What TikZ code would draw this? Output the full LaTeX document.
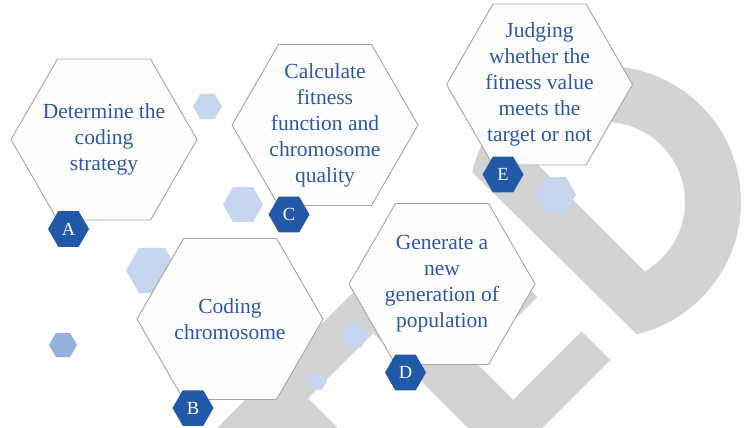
\documentclass[tikz,border=0pt]{standalone}
\usepackage{fontspec}
\setmainfont{Liberation Serif}
\usetikzlibrary{shapes.geometric}
\definecolor{txtblue}{RGB}{45,88,166}
\definecolor{badgeblue}{RGB}{34,88,168}
\definecolor{lightblue}{RGB}{198,214,238}
\definecolor{midblue}{RGB}{148,176,220}
\definecolor{bggray}{RGB}{211,211,211}
\definecolor{hexline}{RGB}{165,165,165}
\definecolor{hexfill}{RGB}{253,253,253}
\begin{document}
\begin{tikzpicture}[x=1pt,y=-1pt,
  bighex/.style={regular polygon, regular polygon sides=6, minimum size=186pt, inner sep=0pt, outer sep=0pt, draw=hexline, fill=hexfill, line width=0.9pt},
  badge/.style={regular polygon, regular polygon sides=6, minimum size=41pt, inner sep=0pt, fill=badgeblue, text=white, font=\fontsize{18.5}{20}\selectfont},
  deco/.style={regular polygon, regular polygon sides=6, inner sep=0pt, outer sep=0pt, fill=lightblue},
  steptext/.style={align=center, text=txtblue, font=\fontsize{21.5}{26}\selectfont, inner sep=0pt}
]
\useasboundingbox (0,0) rectangle (747,428);
\clip (0,0) rectangle (747,428);
\fill[white] (0,0) rectangle (747,428);

% background gray shapes
\fill[bggray, even odd rule]
  (472.3,172.3) -- (636.7,334.2)
  -- plot[domain=76.5:-167.4, samples=90] ({605+136*cos(\x)},{202+136*sin(\x)}) -- cycle
  (535.5,162.5) -- (644.5,271.5)
  -- plot[domain=60.4:-150.4, samples=90] ({605+80*cos(\x)},{202+80*sin(\x)}) -- cycle;
\fill[bggray] (443,203) -- (537,297) -- (473.5,360.5) -- (513,400) -- (581.5,331.5)
  -- (610,360) -- (505,465) -- (373,333) -- (308,398) -- (349,439) -- (206,439) -- cycle;

% decorative light hexagons
\node[deco, minimum size=29pt] (d1) at (207.5,106.5) {};
\node[deco, minimum size=40pt] (d2) at (243,204.5) {};
\node[deco, minimum size=52pt] (d3) at (152,270.5) {};
\node[deco, minimum size=28pt, fill=midblue] (d4) at (63,345) {};
\node[deco, minimum size=28pt] (d5) at (354,335.5) {};
\node[deco, minimum size=20pt] (d6) at (317,381) {};
\node[deco, minimum size=40pt] (d7) at (556,194.5) {};

% big hexagons
\node[bighex] (hA) at (104,139.5) {};
\node[bighex] (hC) at (325,125) {};
\node[bighex] (hB) at (230,319) {};
\node[bighex] (hE) at (539.5,84.5) {};
\node[bighex] (hD) at (442,284) {};

% texts
\node[steptext] (tA) at (hA.center) {Determine the\\coding\\strategy};
\node[steptext] (tB) at (hB.center) {Coding\\chromosome};
\node[steptext] (tC) at (hC.center) {Calculate\\fitness\\function and\\chromosome\\quality};
\node[steptext] (tD) at (hD.center) {Generate a\\new\\generation of\\population};
\node[steptext] (tE) at (hE.center) {Judging\\whether the\\fitness value\\meets the\\target or not};

% badges
\node[badge] (bA) at (68.5,229) {A};
\node[badge] (bB) at (193,408) {B};
\node[badge] (bC) at (289,214.5) {C};
\node[badge] (bD) at (405.5,372.5) {D};
\node[badge] (bE) at (503,174.5) {E};
\end{tikzpicture}
\end{document}
